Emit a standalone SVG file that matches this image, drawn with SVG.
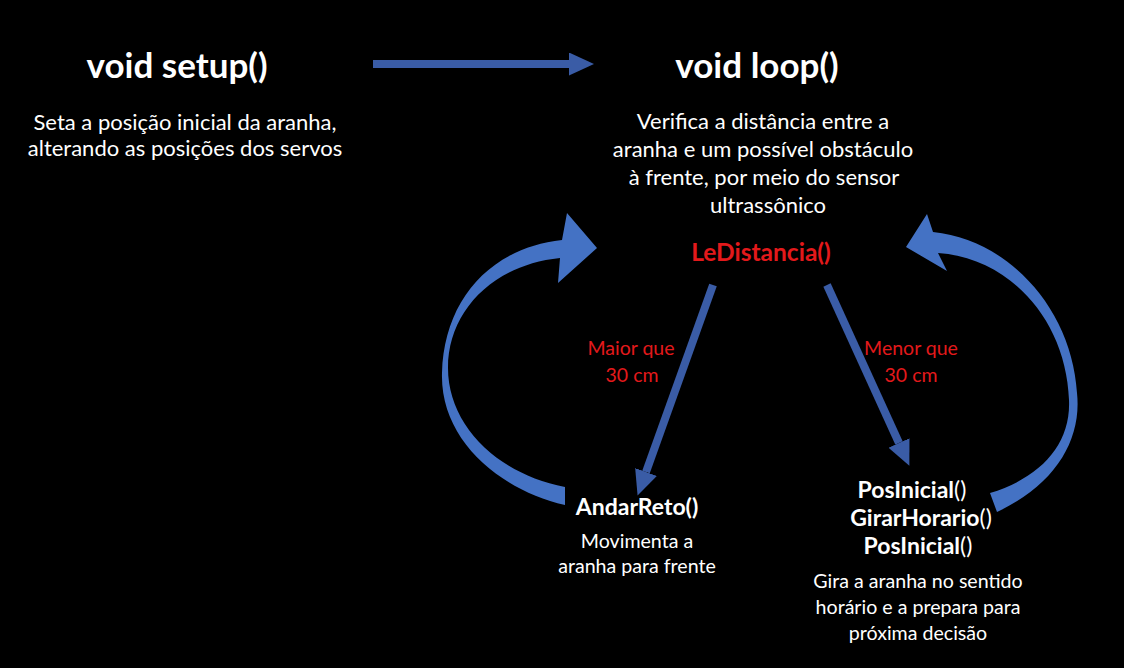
<svg xmlns="http://www.w3.org/2000/svg" width="1124" height="668" viewBox="0 0 1124 668">
<style>
text{font-family:Lato,"Liberation Sans",sans-serif;fill:#ffffff;text-anchor:middle}
.title{font-size:35px;font-weight:bold}
.body{font-size:22px}
.fn{font-size:23px;font-weight:bold}
.fnr{font-size:24.5px;font-weight:bold}
.red{fill:#e3191b}
.lbl{font-size:19.5px}
.sm{font-size:19.6px}
.straight{stroke:#3a5ca6;stroke-width:8;fill:none}
.curve{fill:#4472c4}
</style>
<defs>
<marker id="head" markerUnits="userSpaceOnUse" markerWidth="26" markerHeight="24" refX="0" refY="11.5" orient="auto">
<path d="M0,0 L25,11.5 L0,23 z" fill="#3a5ca6"/>
</marker>
</defs>
<rect x="0" y="0" width="1124" height="668" fill="#000000"/>
<g id="connectors">
<line class="straight" x1="373" y1="64" x2="569" y2="64" marker-end="url(#head)"/>
<line class="straight" x1="713" y1="285" x2="646" y2="472" marker-end="url(#head)"/>
<line class="straight" x1="827" y1="285" x2="899" y2="443" marker-end="url(#head)"/>
<path class="curve" d="M565,505 C500,490 440,440 442,373 C444,300 490,248 562,240 L567,213 L597,248 L558,283 L560,258 C492,265 448,312 448,368 C448,425 497,474 565,487 Z"/>
<path class="curve" d="M997,512 C1055,485 1082,440 1077,393 C1072,310 1010,240 933,232 L927,214 L906,247 L947,271 L938,253 C1010,258 1066,320 1069,400 C1071,445 1040,478 990,493 Z"/>
</g>
<g id="setup">
<text class="title" x="177" y="78">void setup()</text>
<text class="body" x="185" y="130">Seta a posição inicial da aranha,</text>
<text class="body" x="185" y="156">alterando as posições dos servos</text>
</g>
<g id="loop">
<text class="title" x="757" y="78">void loop()</text>
<text class="body" x="763" y="129">Verifica a distância entre a</text>
<text class="body" x="763" y="157">aranha e um possível obstáculo</text>
<text class="body" x="764" y="185">à frente, por meio do sensor</text>
<text class="body" x="768" y="213">ultrassônico</text>
<text class="fnr red" x="761" y="261">LeDistancia()</text>
</g>
<g id="label-maior">
<text class="lbl red" x="631" y="355">Maior que</text>
<text class="lbl red" x="632" y="382">30 cm</text>
</g>
<g id="label-menor">
<text class="lbl red" x="911" y="355">Menor que</text>
<text class="lbl red" x="911" y="382">30 cm</text>
</g>
<g id="andar">
<text class="fn" x="637" y="515">AndarReto()</text>
<text class="sm" x="637" y="548">Movimenta a</text>
<text class="sm" x="637" y="573">aranha para frente</text>
</g>
<g id="girar">
<text class="fn" x="912" y="498">PosInicial<tspan font-weight="normal">()</tspan></text>
<text class="fn" x="921" y="526">GirarHorario<tspan font-weight="normal">()</tspan></text>
<text class="fn" x="918" y="554">PosInicial<tspan font-weight="normal">()</tspan></text>
<text class="sm" x="918" y="588">Gira a aranha no sentido</text>
<text class="sm" x="918" y="614">horário e a prepara para</text>
<text class="sm" x="918" y="640">próxima decisão</text>
</g>
</svg>
